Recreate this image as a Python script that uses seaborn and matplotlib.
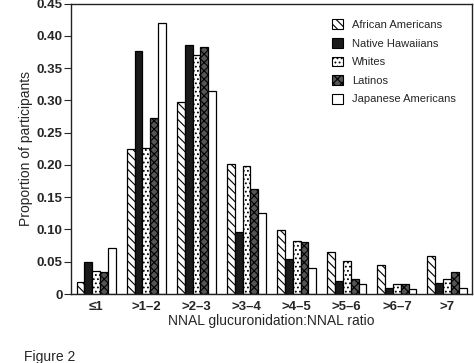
import pandas as pd
import matplotlib
matplotlib.use("Agg")
import matplotlib.pyplot as plt
import seaborn as sns
from matplotlib.patches import Patch

# ratio bins
categories = ["\u22641", ">1\u20132", ">2\u20133", ">3\u20134", ">4\u20135", ">5\u20136", ">6\u20137", ">7"]
groups = ["African Americans", "Native Hawaiians", "Whites", "Latinos", "Japanese Americans"]

african_americans = [0.018, 0.225, 0.297, 0.201, 0.099, 0.065, 0.045, 0.059]
native_hawaiians = [0.049, 0.377, 0.386, 0.096, 0.054, 0.020, 0.010, 0.017]
whites = [0.036, 0.227, 0.371, 0.199, 0.082, 0.051, 0.015, 0.024]
latinos = [0.034, 0.273, 0.383, 0.162, 0.081, 0.024, 0.015, 0.034]
japanese_americans = [0.072, 0.420, 0.315, 0.125, 0.041, 0.015, 0.008, 0.010]

values = [african_americans, native_hawaiians, whites, latinos, japanese_americans]
rows = []
for g, vals in zip(groups, values):
    for c, v in zip(categories, vals):
        rows.append({"ratio": c, "group": g, "prop": v})
df = pd.DataFrame(rows)

sns.set_style("ticks")
plt.rcParams["font.family"] = ["Liberation Sans", "DejaVu Sans"]
plt.rcParams["hatch.linewidth"] = 0.8

fig = plt.figure(figsize=(4.74, 3.63), dpi=100)
ax = fig.add_axes([0.150, 0.190, 0.846, 0.800])

sns.barplot(data=df, x="ratio", y="prop", hue="group", order=categories,
            hue_order=groups, width=0.78, gap=0, ax=ax, legend=False,
            edgecolor="black", linewidth=0.9)

faces = ["white", "#1a1a1a", "white", "#555555", "white"]
hatches = ["\\\\\\\\", None, "....", "xxxx", None]
for cont, fc, h in zip(ax.containers, faces, hatches):
    for bar in cont:
        bar.set_facecolor(fc)
        bar.set_edgecolor("black")
        if h:
            bar.set_hatch(h)

ax.set_xlim(-0.5, 7.5)
ax.set_ylim(0, 0.45)
ax.set_yticks([0, 0.05, 0.10, 0.15, 0.20, 0.25, 0.30, 0.35, 0.40, 0.45])
ax.set_yticklabels(["0", "0.05", "0.10", "0.15", "0.20", "0.25", "0.30", "0.35", "0.40", "0.45"])
ax.tick_params(axis="y", labelsize=9.5, length=5, width=0.8, pad=1)
ax.tick_params(axis="x", labelsize=9.5, length=0, pad=5)
for lab in ax.get_xticklabels() + ax.get_yticklabels():
    lab.set_fontweight("bold")
ax.set_xlabel("NNAL glucuronidation:NNAL ratio", fontsize=10, labelpad=1)
ax.set_ylabel("Proportion of participants", fontsize=10, labelpad=3)
for s in ax.spines.values():
    s.set_linewidth(1.0)
    s.set_color("#222222")

handles = [Patch(facecolor=fc, edgecolor="black", hatch=h, linewidth=0.8)
           for fc, h in zip(faces, hatches)]
ax.legend(handles, groups, loc="upper right", bbox_to_anchor=(0.985, 0.98),
          frameon=False, fontsize=8, handlelength=1.0, handleheight=1.0,
          handletextpad=0.8, labelspacing=0.7)

fig.text(0.05, 0.006, "Figure 2", fontsize=10)

fig.savefig("out.png", dpi=100)
